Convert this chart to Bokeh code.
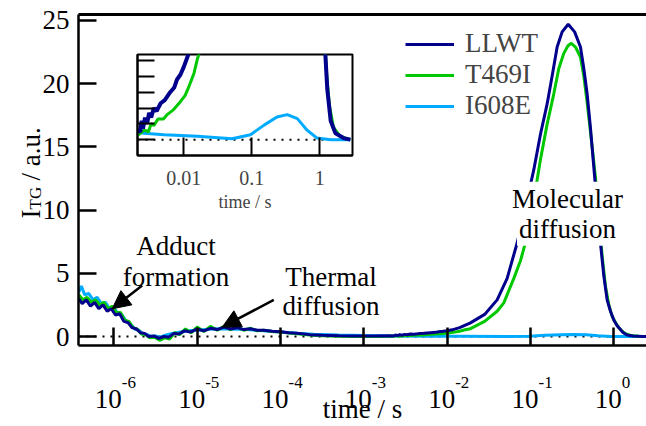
import math
import numpy as np
from bokeh.plotting import figure
from bokeh.models import (Range1d, LinearAxis, FixedTicker, Label, Arrow, NormalHead, Span,
                          Legend, LegendItem, CustomJSTickFormatter)
from bokeh.layouts import column
from bokeh.embed import file_html
from bokeh.resources import INLINE

# ---------------- data (time as log10(t / s)) ----------------
series_names = ["LLWT", "T469I", "I608E"]

llwt_log_t = [-6.42, -6.38, -6.33, -6.28, -6.23, -6.18, -6.13, -6.08, -6.03, -5.98, -5.93, -5.88,
              -5.83, -5.78, -5.73, -5.68, -5.63, -5.58, -5.52, -5.46, -5.40, -5.34, -5.28, -5.22,
              -5.15, -5.08, -5.00, -4.92, -4.84, -4.76, -4.68, -4.60, -4.52, -4.44, -4.36, -4.28,
              -4.20, -4.10, -4.00, -3.90, -3.80, -3.65, -3.50, -3.30, -3.10, -2.90, -2.70, -2.64,
              -2.62, -2.60, -2.57, -2.54, -2.51, -2.48, -2.44, -2.40, -2.34, -2.28, -2.20, -2.14,
              -2.10, -2.05, -2.00, -1.94, -1.85, -1.72, -1.55, -1.40, -1.28, -1.16, -1.06, -0.96,
              -0.88, -0.80, -0.74, -0.68, -0.62, -0.547, -0.47, -0.40, -0.36, -0.32, -0.28, -0.24,
              -0.20, -0.16, -0.12, -0.08, -0.04, 0.00, 0.04, 0.08, 0.11, 0.16, 0.23, 0.35, 0.45]
llwt_signal = [3.0, 2.6, 2.9, 2.4, 2.7, 2.2, 2.5, 2.0, 2.2, 1.7, 1.8, 1.2,
               1.1, 0.7, 0.6, 0.3, 0.25, 0.0, 0.05, -0.15, 0.0, -0.05, 0.25, 0.2,
               0.45, 0.35, 0.6, 0.45, 0.65, 0.55, 0.75, 0.6, 0.7, 0.55, 0.62, 0.5,
               0.5, 0.42, 0.38, 0.3, 0.25, 0.15, 0.1, 0.06, 0.04, 0.04, 0.06, 0.05,
               0.12, 0.07, 0.14, 0.10, 0.17, 0.14, 0.20, 0.18, 0.23, 0.25, 0.30, 0.33,
               0.38, 0.41, 0.46, 0.53, 0.70, 1.08, 1.75, 2.9, 4.6, 7.4, 10.2, 13.2,
               16.0, 18.4, 20.6, 22.9, 24.1, 24.7, 24.1, 22.9, 21.2, 19.2, 16.5, 13.4,
               10.3, 7.4, 4.8, 2.9, 2.0, 1.3, 0.85, 0.55, 0.32, 0.12, 0.04, 0.01, 0.0]

t469i_log_t = [-6.42, -6.37, -6.32, -6.27, -6.22, -6.17, -6.12, -6.07, -6.02, -5.97, -5.92, -5.87,
               -5.82, -5.77, -5.72, -5.67, -5.62, -5.57, -5.51, -5.45, -5.39, -5.33, -5.27, -5.21,
               -5.14, -5.07, -5.00, -4.92, -4.84, -4.76, -4.68, -4.60, -4.52, -4.44, -4.36, -4.28,
               -4.20, -4.10, -4.00, -3.90, -3.80, -3.65, -3.50, -3.30, -3.10, -2.90, -2.70, -2.58,
               -2.52, -2.48, -2.44, -2.38, -2.30, -2.24, -2.15, -2.05, -1.98, -1.93, -1.85, -1.80,
               -1.72, -1.55, -1.40, -1.32, -1.20, -1.12, -1.04, -0.96, -0.88, -0.80, -0.72, -0.66,
               -0.60, -0.55, -0.51, -0.46, -0.40, -0.36, -0.32, -0.27, -0.22, -0.18, -0.14, -0.10,
               -0.06, -0.02, 0.02, 0.06, 0.10, 0.14, 0.20, 0.30, 0.45]
t469i_signal = [3.3, 2.9, 3.1, 2.7, 2.9, 2.5, 2.7, 2.2, 2.4, 1.9, 1.9, 1.3,
                1.2, 0.7, 0.6, 0.2, 0.15, -0.1, -0.05, -0.3, -0.1, -0.2, 0.3, 0.15,
                0.6, 0.3, 0.75, 0.4, 0.8, 0.5, 0.8, 0.55, 0.75, 0.5, 0.65, 0.45,
                0.5, 0.4, 0.35, 0.28, 0.22, 0.12, 0.06, 0.02, 0.0, 0.0, 0.02, 0.06,
                0.05, 0.10, 0.09, 0.13, 0.13, 0.16, 0.19, 0.24, 0.28, 0.33, 0.42, 0.51,
                0.62, 1.2, 2.0, 2.66, 4.6, 6.0, 7.9, 10.8, 14.0, 16.8, 19.2, 21.2,
                22.4, 23.0, 23.2, 22.9, 22.1, 20.6, 18.5, 15.6, 12.6, 9.4, 6.4, 4.0,
                2.5, 1.6, 1.1, 0.7, 0.42, 0.22, 0.08, 0.02, 0.0]

i608e_log_t = [-6.42, -6.39, -6.35, -6.30, -6.25, -6.20, -6.15, -6.10, -6.05, -6.00, -5.95, -5.90,
               -5.85, -5.80, -5.75, -5.70, -5.65, -5.60, -5.55, -5.50, -5.44, -5.38, -5.30, -5.20,
               -5.10, -5.00, -4.90, -4.80, -4.70, -4.60, -4.50, -4.40, -4.30, -4.20, -4.10, -4.00,
               -3.80, -3.60, -3.30, -3.00, -2.70, -2.59, -2.29, -1.80, -1.29, -1.02, -0.82, -0.63,
               -0.48, -0.33, -0.19, -0.04, 0.16, 0.45]
i608e_signal = [3.5, 4.0, 3.3, 3.4, 2.9, 3.1, 2.6, 2.7, 2.2, 2.3, 1.8, 1.7,
                1.2, 1.0, 0.6, 0.5, 0.2, 0.15, 0.0, 0.05, -0.05, 0.1, 0.25, 0.35,
                0.45, 0.5, 0.55, 0.6, 0.62, 0.6, 0.58, 0.55, 0.5, 0.45, 0.4, 0.35,
                0.25, 0.18, 0.12, 0.08, 0.05, 0.041, 0.031, 0.021, 0.006, 0.031, 0.092, 0.143,
                0.158, 0.133, 0.061, 0.01, 0.0, 0.0]

main_y_ticks = [0, 5, 10, 15, 20, 25]
main_x_decades = [-6, -5, -4, -3, -2, -1, 0]
inset_x_ticks = [0.01, 0.1, 1]
inset_y_ticks = [0, 0.1, 0.2, 0.3, 0.4, 0.5]

# ---------------- styling ----------------
SERIF = "Liberation Serif, Times New Roman, serif"
COLORS = {"LLWT": "#00008C", "T469I": "#00C800", "I608E": "#00AAFF"}
W, H = 646, 426

# pixel calibration of the main plot
X0, DEC = 613.3, 83.33      # pixel of 10^0 and pixels per decade
Y0, YU = 337.0, 12.68       # pixel of y = 0 and pixels per unit


def tx(px):
    return 10 ** ((px - X0) / DEC)


def vy(py):
    return (Y0 - py) / YU


# inset calibration
IX0, IDEC = 183.3, 68.0
IY0, IYU = 141.7, 163.0


def ix(px):
    return 10 ** (-2 + (px - IX0) / IDEC)


def iv(py):
    return (IY0 - py) / IYU


times = {
    "LLWT": 10.0 ** np.array(llwt_log_t),
    "T469I": 10.0 ** np.array(t469i_log_t),
    "I608E": 10.0 ** np.array(i608e_log_t),
}
signals = {"LLWT": llwt_signal, "T469I": t469i_signal, "I608E": i608e_signal}
empty_fmt = CustomJSTickFormatter(code="return ''")

# ---------------- main figure ----------------
p = figure(width=W, height=H, x_axis_type="log",
           x_range=Range1d(tx(78), tx(646)), y_range=Range1d(vy(346), vy(14)),
           output_backend="svg", toolbar_location=None, frame_align=False,
           min_border_left=78, min_border_right=0, min_border_top=14, min_border_bottom=80)
p.grid.visible = False
p.outline_line_color = None
p.background_fill_color = "white"
p.border_fill_color = "white"

xa = p.xaxis[0]
xa.ticker = FixedTicker(ticks=[10.0 ** k for k in main_x_decades])
xa.formatter = empty_fmt
xa.major_tick_in = 18
xa.major_tick_out = 0
xa.major_label_standoff = 0
xa.minor_tick_line_color = None
xa.axis_line_width = 2.5
xa.major_tick_line_width = 2.5
xa.axis_line_color = "black"
xa.major_tick_line_color = "black"
xa.axis_label = "time / s"
xa.axis_label_text_font = SERIF
xa.axis_label_text_font_size = "27px"
xa.axis_label_text_font_style = "normal"
xa.axis_label_text_color = "black"
xa.axis_label_standoff = 48

ya = p.yaxis[0]
ya.ticker = FixedTicker(ticks=main_y_ticks)
ya.major_tick_in = 18
ya.major_tick_out = 0
ya.minor_tick_line_color = None
ya.axis_line_width = 2.5
ya.major_tick_line_width = 2.5
ya.axis_line_color = "black"
ya.major_tick_line_color = "black"
ya.major_label_text_font = SERIF
ya.major_label_text_font_size = "27px"
ya.major_label_text_color = "black"
ya.major_label_standoff = 9

top_axis = LinearAxis(ticker=FixedTicker(ticks=[]), formatter=empty_fmt,
                      axis_line_width=3, axis_line_color="black",
                      major_tick_line_color=None, minor_tick_line_color=None,
                      major_tick_out=0, major_tick_in=0, major_label_standoff=0)
p.add_layout(top_axis, "above")

p.add_layout(Span(location=0, dimension="width", line_color="black", line_width=2,
                  line_dash="2 6", level="underlay"))

renderers = {}
for name in ["I608E", "T469I", "LLWT"]:
    renderers[name] = p.line(times[name], signals[name], line_color=COLORS[name], line_width=3)

legend = Legend(items=[LegendItem(label=n, renderers=[renderers[n]]) for n in series_names],
                location=(327, 224), padding=0, margin=0, spacing=0,
                glyph_width=49, glyph_height=30, label_height=30, label_standoff=11,
                label_text_font=SERIF, label_text_font_size="27px",
                border_line_color=None, background_fill_alpha=0)
p.add_layout(legend, "center")

# ---------------- inset ----------------
q = figure(width=228, height=164, x_axis_type="log",
           x_range=Range1d(ix(137), ix(352)), y_range=Range1d(iv(158), iv(54)),
           output_backend="svg", toolbar_location=None, frame_align=False,
           min_border_left=7, min_border_right=6, min_border_top=4, min_border_bottom=56)
q.grid.visible = False
q.outline_line_color = "black"
q.outline_line_width = 2
q.background_fill_color = "white"
q.border_fill_color = None

qx = q.xaxis[0]
qx.ticker = FixedTicker(ticks=inset_x_ticks)
qx.formatter = CustomJSTickFormatter(code="return tick.toString()")
qx.major_tick_in = 18
qx.major_tick_out = 0
qx.minor_tick_line_color = None
qx.axis_line_width = 2
qx.major_tick_line_width = 2
qx.major_label_text_font = SERIF
qx.major_label_text_font_size = "20px"
qx.major_label_standoff = 15
qx.axis_label = "time / s"
qx.axis_label_text_font = SERIF
qx.axis_label_text_font_size = "18px"
qx.axis_label_text_font_style = "normal"
qx.axis_label_standoff = 4

qy = q.yaxis[0]
qy.ticker = FixedTicker(ticks=inset_y_ticks)
qy.formatter = empty_fmt
qy.major_tick_in = 17
qy.major_tick_out = 0
qy.minor_tick_line_color = None
qy.axis_line_width = 2
qy.major_tick_line_width = 2
qy.major_label_standoff = 0

q.add_layout(Span(location=0, dimension="width", line_color="black", line_width=2,
                  line_dash="2 6", level="underlay"))
inset_widths = {"I608E": 3, "T469I": 3, "LLWT": 4}
for name in ["I608E", "T469I", "LLWT"]:
    q.line(times[name], signals[name], line_color=COLORS[name], line_width=inset_widths[name])

# ---------------- text overlay (pixel coordinates of the page) ----------------
o = figure(width=W, height=H, x_range=Range1d(0, W), y_range=Range1d(H, 0),
           x_axis_location=None, y_axis_location=None, toolbar_location=None,
           output_backend="svg", min_border=0, frame_align=False)
o.grid.visible = False
o.outline_line_color = None
o.background_fill_alpha = 0
o.border_fill_alpha = 0


def add_label(x, y, text, size, align="center", angle=0.0, bg=None):
    kw = dict(x=x, y=y, text=text, text_font=SERIF, text_font_size=size,
              text_align=align, text_baseline="alphabetic", text_color="black", angle=angle)
    if bg is not None:
        kw.update(background_fill_color=bg, padding=2)
    o.add_layout(Label(**kw))


add_label(175.5, 245, "Adduct", "27px")
add_label(175.5, 276, "formation", "27px")
add_label(330.5, 276.7, "Thermal", "27px")
add_label(330.5, 305, "diffusion", "27px")
add_label(567, 198.3, "Molecular", "27px", bg="white")
add_label(567, 228.3, "diffusion", "27px", bg="white")

for (x1, y1, x2, y2) in [(141.7, 285, 111.7, 308.3), (273.3, 299.3, 221.7, 326.7)]:
    o.add_layout(Arrow(end=NormalHead(size=18, fill_color="black", line_color="black"),
                       x_start=x1, y_start=y1, x_end=x2, y_end=y2,
                       line_width=2.5, line_color="black"))

# decade tick labels 10^k of the main x axis
for k in main_x_decades:
    xp = X0 + k * DEC
    add_label(xp + 8, 398, "10", "27px", align="right")
    add_label(xp + 8, 382, str(k), "17px", align="left")

# y axis title with subscript
add_label(30, 218, "I", "27px", align="left", angle=math.pi / 2)
add_label(35, 209, "TG", "17px", align="left", angle=math.pi / 2)
add_label(30, 180, "/ a.u.", "27px", align="left", angle=math.pi / 2)

# stack: main plot, inset on top of it, text overlay on top of everything
q.margin = (50 - H, 0, 0, 130)
o.margin = (-(50 + 164), 0, 0, 0)

layout = column(p, q, o)
open("out.html", "w").write(file_html(layout, INLINE))
